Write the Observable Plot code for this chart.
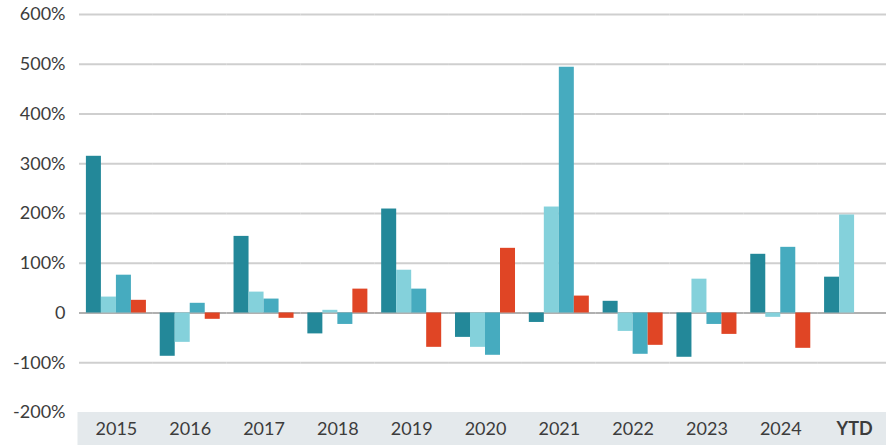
<!DOCTYPE html>
<html>
<head>
<meta charset="utf-8">
<script src="https://cdn.jsdelivr.net/npm/d3@7"></script>
<script src="https://cdn.jsdelivr.net/npm/@observablehq/plot@0.6"></script>
<style>
  html, body { margin: 0; padding: 0; background: #fff; overflow: hidden; }
  svg { max-width: none !important; }
</style>
</head>
<body>
<div id="chart"></div>
<script>
const years = ["2015","2016","2017","2018","2019","2020","2021","2022","2023","2024","YTD"];
const seriesNames = ["Series 1","Series 2","Series 3","Series 4"];
const seriesColors = ["#238899","#84d1db","#46abbf","#e04525"];
const series1 = [315, -87, 154, -42, 209, -49, -19, 23.5, -89, 118, 72];
const series2 = [32, -59, 42, 5.4, 86, -69, 213, -37, 68, -8.7, 197];
const series3 = [76, 19.5, 28, -23, 48, -85, 494, -83, -23, 132, null];
const series4 = [25.5, -12.7, -10.7, 48, -69, 130, 34, -65, -43, -71, null];
const yTicks = [-200, -100, 0, 100, 200, 300, 400, 500, 600];
const gridTicks = [-100, 100, 200, 300, 400, 500, 600];

const allSeries = [series1, series2, series3, series4];
const data = [];
years.forEach((yr, i) => {
  allSeries.forEach((s, j) => {
    if (s[i] != null) data.push({year: yr, series: seriesNames[j], value: s[i]});
  });
});

const W = 891;
const marginLeft = 79;
const plot = Plot.plot({
  width: W,
  height: 445,
  marginLeft,
  marginRight: 0,
  marginTop: 14,
  marginBottom: 33,
  style: {fontFamily: "Lato, 'Open Sans', sans-serif", fontSize: "18px", color: "#3c3c3c", background: "transparent", maxWidth: "none"},
  facet: {data, x: "year"},
  fx: {domain: years, padding: 0, round: false, label: null, tickSize: 0, tickPadding: 10, axis: "bottom"},
  x: {domain: seriesNames, paddingInner: 0, paddingOuter: 0.46, round: false, axis: null},
  y: {domain: [-200, 600], ticks: yTicks, tickFormat: d => d === 0 ? "0" : d + "%", tickSize: 0, tickPadding: 14, label: null},
  color: {domain: seriesNames, range: seriesColors},
  marks: [
    Plot.ruleY(gridTicks, {stroke: "#cfcfcf", strokeWidth: 2}),
    Plot.ruleY([0], {stroke: "#b0b0b0", strokeWidth: 2}),
    Plot.barY(data, {x: "series", y: "value", fill: "series"})
  ]
});

const svg = d3.select(plot);
const yScale = plot.scale("y");
const bandTop = yScale.apply(-200);
svg.insert("rect", ":first-child")
  .attr("x", marginLeft - 1.5)
  .attr("y", bandTop)
  .attr("width", W - marginLeft + 1.5)
  .attr("height", 445 - bandTop)
  .attr("fill", "#e4e9ec");
const fxLabels = svg.selectAll("text").filter(function() { return years.includes(this.textContent); });
fxLabels.filter(function() { return this.textContent === "YTD"; }).attr("font-weight", "bold");

document.getElementById("chart").appendChild(plot);
</script>
</body>
</html>
